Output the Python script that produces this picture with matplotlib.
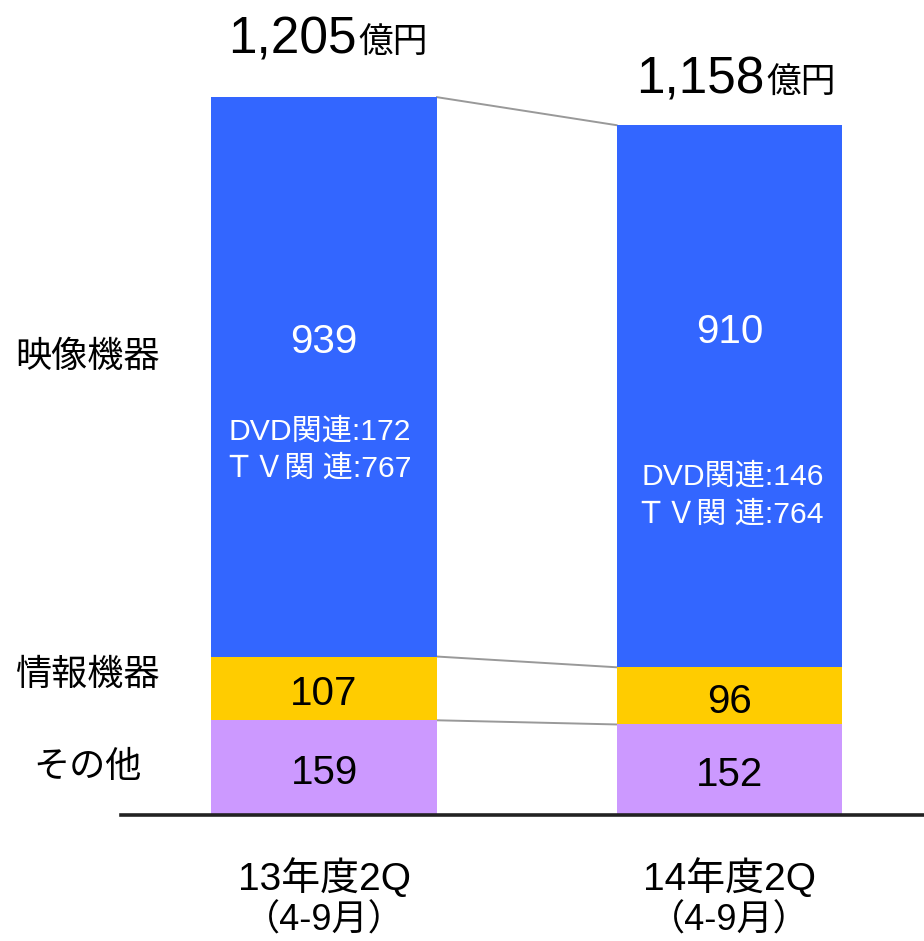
import matplotlib
matplotlib.use("Agg")
import matplotlib.pyplot as plt
import numpy as np

plt.rcParams['font.family'] = ['Liberation Sans', 'Noto Sans CJK JP', 'DejaVu Sans']

# ---- data ----
periods = ["13年度2Q", "14年度2Q"]
period_sub = ["（4-9月）", "（4-9月）"]
segments = ["その他", "情報機器", "映像機器"]
other = [159, 152]
info = [107, 96]
video = [939, 910]
dvd = [172, 146]
tv = [767, 764]
totals = [1205, 1158]
unit = "億円"

colors = {"その他": "#CC99FF", "情報機器": "#FFCC00", "映像機器": "#3366FF"}

W, H = 924, 941
fig = plt.figure(figsize=(W / 100, H / 100), dpi=100)
ax = fig.add_axes([0, 0, 1, 1])

# pixel mapping (layout only)
cx0, dxp = 324.0, 405.5
base_py, ppu = 815.0, 0.5957
ax.set_xlim(-cx0 / dxp, (W - cx0) / dxp)
ax.set_ylim(-(H - base_py) / ppu, base_py / ppu)
ax.axis("off")


def P(px, py):
    return ((px - cx0) / dxp, (base_py - py) / ppu)


x = np.arange(len(periods))
bw = 0.5573
vals = [other, info, video]
bottoms = np.zeros(len(periods))
tops_list = []
for name, v in zip(segments, vals):
    ax.bar(x, v, bw, bottom=bottoms, color=colors[name], zorder=2, linewidth=0)
    bottoms = bottoms + np.array(v)
    tops_list.append(bottoms.copy())

# connector lines between bars
for tops in tops_list:
    ax.plot([x[0] + bw / 2, x[1] - bw / 2], [tops[0], tops[1]],
            color="#999999", lw=1.4, zorder=1)

# baseline axis
xl = ax.get_xlim()
ax.plot([P(121, 0)[0], xl[1]], [0, 0], color="#222222", lw=2.6, zorder=3)

# segment value labels (other, info)
for i in range(len(periods)):
    ax.annotate(str(other[i]), (x[i], other[i] / 2), xytext=(0, -12),
                textcoords="offset points", ha="center", va="baseline",
                fontsize=29, color="black", zorder=4)
    ax.annotate(str(info[i]), (x[i], other[i] + info[i] / 2), xytext=(0, -12),
                textcoords="offset points", ha="center", va="baseline",
                fontsize=29, color="black", zorder=4)

# video labels (explicit positions)
video_label_py = [342, 332]
dvd_py = [432, 477]
tv_py = [469, 515]
right_px = [411, 824]
for i in range(len(periods)):
    ax.text(x[i], P(0, video_label_py[i])[1], str(video[i]),
            ha="center", va="center", fontsize=29, color="white", zorder=4)
    ax.text(P(right_px[i], 0)[0], P(0, dvd_py[i])[1], f"DVD関連:{dvd[i]}",
            ha="right", va="center", fontsize=21.7, color="white", zorder=4)
    ax.text(P(right_px[i], 0)[0], P(0, tv_py[i])[1], f"ＴＶ関 連:{tv[i]}",
            ha="right", va="center", fontsize=21.7, color="white", zorder=4)

# totals
num_right_px = [357, 765]
num_base_py = [53, 93]
for i in range(len(periods)):
    xx, yy = P(num_right_px[i], num_base_py[i])
    ax.text(xx, yy, f"{totals[i]:,}", ha="right", va="baseline",
            fontsize=37, color="black")
    ax.text(xx + 1 / dxp, yy, unit, ha="left", va="baseline",
            fontsize=25, color="black")

# category labels (x axis)
for i in range(len(periods)):
    ax.text(x[i], P(0, 890)[1], periods[i], ha="center", va="baseline",
            fontsize=28, color="black")
    ax.text(x[i], P(0, 931)[1], period_sub[i], ha="center", va="baseline",
            fontsize=26, color="black")

# segment names on the left
seg_label_py = {"映像機器": 357, "情報機器": 675, "その他": 768}
for name in segments:
    xx, yy = P(87, seg_label_py[name])
    ax.text(xx, yy, name, ha="center", va="center", fontsize=26, color="black")

fig.savefig("out.png", dpi=100)
